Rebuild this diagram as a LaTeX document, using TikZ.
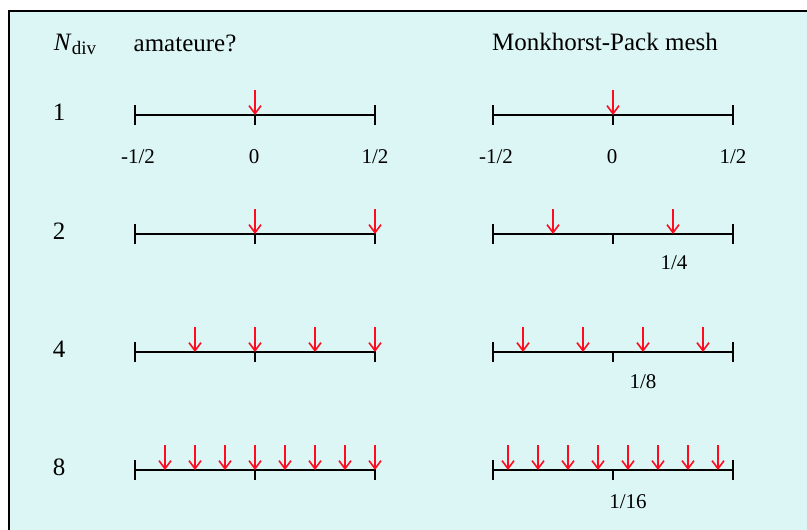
\documentclass[tikz,border=0pt]{standalone}
\usepackage{fontspec}
\setmainfont{Liberation Serif}
\usetikzlibrary{arrows.meta}
\definecolor{panelcyan}{HTML}{DBF6F4}
\definecolor{kred}{HTML}{FF0A1E}

\begin{document}
\begin{tikzpicture}[x=1pt,y=-1pt,
    axis/.style={line width=2pt},
    kpoint/.style={kred,line width=1.6pt,-{Straight Barb[length=8pt,width=12pt]}},
    ticklbl/.style={font=\fontsize{21}{25}\selectfont},
    headlbl/.style={font=\fontsize{25}{29}\selectfont}]
        \useasboundingbox (0,0) rectangle (807,530);
        \draw[fill=panelcyan,line width=2pt] (9,11) rectangle (830,550);
        % headers
        \node[headlbl] (ndiv) at (75,44) {\textit{N}\raisebox{-0.35ex}{\fontsize{19}{20}\selectfont div}};
        \node[headlbl] (amat) at (185,43) {amateure?};
        \node[headlbl] (mpack) at (605,42) {Monkhorst-Pack mesh};
        % rows
        \foreach \y/\n in {115/1,234/2,352/4,470/8} {
            \node[headlbl] (row\n) at (59,\y-3) {\n};
            \foreach \xa in {135,493} {
                \draw[axis] (\xa,\y) -- (\xa+240,\y);
                \draw[axis] (\xa,\y-10) -- (\xa,\y+10);
                \draw[axis] (\xa+240,\y-10) -- (\xa+240,\y+10);
                \draw[axis] (\xa+120,\y) -- (\xa+120,\y+10);
            }
        }
        % k-points, left: shifted grid
        \foreach \y/\xs in {115/{255},234/{255,375},352/{195,255,315,375},470/{165,195,...,375}} {
            \foreach \x in \xs
                \draw[kpoint] (\x,\y-25) -- (\x,\y);
        }
        % k-points, right: Monkhorst-Pack
        \foreach \y/\xs in {115/{613},234/{553,673},352/{523,583,643,703},470/{508,538,...,718}} {
            \foreach \x in \xs
                \draw[kpoint] (\x,\y-25) -- (\x,\y);
        }
        % tick labels
        \node[ticklbl] (lmin) at (138,157) {-1/2};
        \node[ticklbl] (lzero) at (254,157) {0};
        \node[ticklbl] (lmax) at (375,157) {1/2};
        \node[ticklbl] (rmin) at (496,157) {-1/2};
        \node[ticklbl] (rzero) at (612,157) {0};
        \node[ticklbl] (rmax) at (733,157) {1/2};
        \node[ticklbl] (quart) at (674,263) {1/4};
        \node[ticklbl] (eighth) at (643,382) {1/8};
        \node[ticklbl] (sixteenth) at (628,502) {1/16};
      \end{tikzpicture}
\end{document}
